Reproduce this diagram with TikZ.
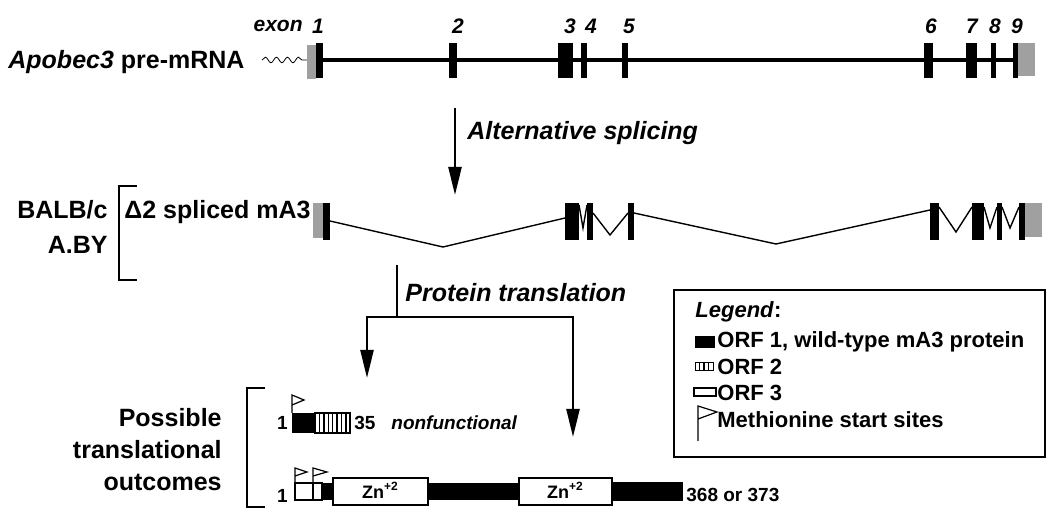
\documentclass[tikz,border=0pt]{standalone}
\usepackage{fontspec}
\setmainfont{Liberation Sans}
\usepackage{tikz}
\usetikzlibrary{positioning,arrows.meta,decorations.pathmorphing}
\definecolor{utrgray}{RGB}{160,160,160}

\begin{document}
\begin{tikzpicture}[x=0.5pt,y=-0.5pt,
  lbl/.style={font=\fontsize{12.5}{16}\selectfont\bfseries,inner sep=0pt},
  exonnum/.style={font=\fontsize{10.5}{12}\selectfont\bfseries\itshape,inner sep=0pt},
  num/.style={font=\fontsize{9.5}{11}\selectfont\bfseries,inner sep=0pt},
  legtxt/.style={font=\fontsize{11}{13}\selectfont\bfseries,inner sep=0pt,anchor=west},
  zntxt/.style={font=\fontsize{9}{10}\selectfont\bfseries,inner sep=0pt},
  splice/.style={line width=0.7pt},
  brk/.style={line width=1.4pt},
  flagpole/.style={line width=0.6pt,fill=white},
  arr/.style={-{Triangle[length=14pt,width=6.5pt]},line width=1.2pt}
]
\useasboundingbox (0,0) rectangle (1050,517);

% pre-mRNA
\node[lbl,anchor=west] (pre) at (8,62) {\textit{Apobec3} pre-mRNA};
\draw[decorate,decoration={snake,amplitude=1.4pt,segment length=5.5pt}] (262,60) -- (307,60);
\draw[line width=2pt] (316,60) -- (1013,60);
\fill[utrgray] (307,45) rectangle (316,79);
\fill[utrgray] (1018,43) rectangle (1035,76);
\foreach \a/\b in {316/323,449/457,558/573,581/587,622/628,924/933,966/977,991/996,1013/1018}
  \fill (\a,43) rectangle (\b,78);
\node[exonnum,anchor=east] (exonlbl) at (303,26) {exon};
\foreach \n/\x in {1/318,2/458,3/570,4/591,5/629,6/931,7/972,8/995,9/1017}
  \node[exonnum] (e\n) at (\x,26) {\n};

\coordinate (splitA) at (455,108);
\coordinate (splitB) at (455,195);
\draw[arr] (splitA) -- (splitB);
\node[lbl,anchor=west,font=\fontsize{12.5}{16}\selectfont\bfseries\itshape] (altsp) at (467,133) {Alternative splicing};

% spliced transcript
\node[lbl,anchor=east] (balb) at (108,210) {BALB/c};
\node[lbl,anchor=east] (aby) at (108,245) {A.BY};
\draw[brk] (137,186) -- (119,186) -- (119,280) -- (137,280);
\node[lbl,anchor=west] (d2) at (124,212) {Δ2 spliced mA3};
\draw[splice] (330,221) -- (443,247) -- (565,218);
\draw[splice] (579,205) -- (583,228) -- (587,205);
\draw[splice] (593,213) -- (610,235) -- (628,213);
\draw[splice] (634,213) -- (776,244) -- (930,210);
\draw[splice] (939,207) -- (956,232) -- (972,207);
\draw[splice] (984,207) -- (990,228) -- (997,207);
\draw[splice] (1002,207) -- (1010,228) -- (1019,207);
\fill[utrgray] (313,203) rectangle (323,238);
\fill[utrgray] (1025,203) rectangle (1042,237);
\foreach \a/\b in {323/330,565/579,587/593,628/634,930/939,972/984,997/1002,1019/1025}
  \fill (\a,203) rectangle (\b,240);

% translation arrows
\coordinate (ptop) at (397,265);
\coordinate (pjoin) at (397,317);
\coordinate (pleft) at (367,317);
\coordinate (pright) at (573,317);
\coordinate (ptipL) at (367,378);
\coordinate (ptipR) at (573,437);
\draw[line width=1.2pt] (ptop) -- (pjoin);
\draw[{Triangle[length=14pt,width=6.5pt]}-{Triangle[length=14pt,width=6.5pt]},line width=1.2pt]
  (ptipL) -- (pleft) -- (pright) -- (ptipR);
\node[lbl,anchor=west,font=\fontsize{12.5}{16}\selectfont\bfseries\itshape] (prot) at (405,293) {Protein translation};

% outcomes
\node[lbl,anchor=east,align=right] (outc) at (222,450) {Possible\\translational\\outcomes};
\draw[brk] (265,388) -- (247,388) -- (247,507) -- (265,507);

\node[num,anchor=east] (n1a) at (288,423) {1};
\fill (292,413) rectangle (315,433);
\draw[line width=0.6pt] (315,413) rectangle (350,433);
\foreach \i in {1,...,7}
  \draw[line width=0.7pt] (315+\i*4.4,413) -- (315+\i*4.4,433);
\draw[flagpole] (292,413) -- (292,395) -- (304,400) -- (292,405);
\node[num,anchor=west] (n35) at (354,423) {35};
\node[num,anchor=west,font=\fontsize{9.5}{11}\selectfont\bfseries\itshape] (nonf) at (391,423) {nonfunctional};

\node[num,anchor=east] (n1b) at (288,496) {1};
\draw[line width=0.6pt] (295,483) rectangle (313,500);
\draw[line width=0.6pt] (313,483) rectangle (322,500);
\fill (322,483) rectangle (333,500);
\fill (428,483) rectangle (519,500);
\fill (612,482) rectangle (683,501);
\draw[line width=0.6pt] (333,478) rectangle (428,505);
\draw[line width=0.6pt] (519,478) rectangle (612,505);
\node[zntxt] (zna) at (380.5,490) {Zn\textsuperscript{+2}};
\node[zntxt] (znb) at (565.5,490) {Zn\textsuperscript{+2}};
\draw[flagpole] (295,483) -- (295,468) -- (307,472) -- (295,476);
\draw[flagpole] (313,483) -- (313,468) -- (327,472) -- (313,476);
\node[num,anchor=west] (nend) at (686,495) {368 or 373};

% legend
\draw[line width=0.9pt] (674,290) rectangle (1045,457);
\node[legtxt] (leghead) at (695,312) {\textit{Legend}:};
\fill (695,336) rectangle (715,348);
\node[legtxt] (leg1) at (717,342) {ORF 1, wild-type mA3 protein};
\draw[line width=0.5pt] (695,363) rectangle (713,371);
\foreach \i in {1,2,3}
  \draw[line width=0.6pt] (695+\i*4.5,363) -- (695+\i*4.5,371);
\node[legtxt] (leg2) at (717,367) {ORF 2};
\draw[line width=0.6pt] (694,388) rectangle (716,396);
\node[legtxt] (leg3) at (717,393) {ORF 3};
\draw[flagpole] (698,441) -- (698,406) -- (717,412) -- (698,419);
\node[legtxt] (leg4) at (717,420) {Methionine start sites};
\end{tikzpicture}
\end{document}
